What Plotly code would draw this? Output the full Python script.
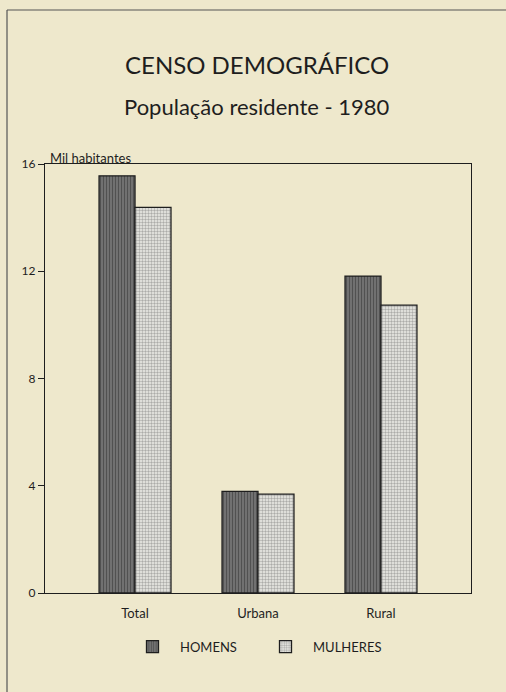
import plotly.graph_objects as go

categories = ["Total", "Urbana", "Rural"]
homens = [15.56, 3.79, 11.82]
mulheres = [14.38, 3.69, 10.74]
y_ticks = [0, 4, 8, 12, 16]

BG = "#eee8cc"
FONT = "Lato"
INK = "#1e1e1e"

fig = go.Figure()
fig.add_trace(go.Bar(
    x=categories, y=homens, name="HOMENS",
    marker=dict(color="#6e6e6e", line=dict(color=INK, width=1.3),
                pattern=dict(shape="|", fgcolor="#262626", bgcolor="#7c7c7c", size=3, solidity=0.5)),
))
fig.add_trace(go.Bar(
    x=categories, y=mulheres, name="MULHERES",
    marker=dict(color="#e6e6e0", line=dict(color=INK, width=1.3),
                pattern=dict(shape=".", fgcolor="#6a6a6a", bgcolor="#eeeee8", size=3, solidity=0.5)),
))

fig.update_layout(
    width=506, height=692,
    margin=dict(l=45, r=35, t=164, b=99),
    paper_bgcolor=BG, plot_bgcolor=BG,
    barmode="group", bargap=0.415, bargroupgap=0,
    font=dict(family=FONT, color=INK, size=12),
    showlegend=True,
    legend=dict(orientation="h", x=(125 - 45) / 426, xanchor="left", y=-0.125, yanchor="middle",
                font=dict(size=13, family=FONT), bgcolor="rgba(0,0,0,0)", itemwidth=45,
                traceorder="normal", entrywidth=73),
    xaxis=dict(range=[-0.732, 2.732], showline=True, linecolor=INK, linewidth=1.3, mirror=True,
               ticks="", showgrid=False, tickfont=dict(size=13, family=FONT), ticklabelstandoff=8),
    yaxis=dict(range=[0, 16], tickvals=y_ticks, showline=True, linecolor=INK, linewidth=1.3, mirror=True,
               ticks="outside", ticklen=6, tickcolor=INK, showgrid=False, zeroline=False,
               tickfont=dict(size=12, family=FONT)),
    annotations=[
        dict(text="CENSO DEMOGRÁFICO", xref="paper", yref="paper", x=0.497, y=(593 - 65) / 429,
             xanchor="center", yanchor="middle", showarrow=False, font=dict(size=24, family=FONT, color=INK)),
        dict(text="População residente - 1980", xref="paper", yref="paper", x=0.497, y=(593 - 107) / 429,
             xanchor="center", yanchor="middle", showarrow=False, font=dict(size=22, family=FONT, color=INK)),
        dict(text="Mil habitantes", xref="paper", yref="paper", x=(48 - 45) / 426, y=(593 - 158) / 429,
             xanchor="left", yanchor="middle", showarrow=False, font=dict(size=13, family=FONT, color=INK)),
    ],
    shapes=[
        dict(type="line", xref="paper", yref="paper", x0=(7 - 45) / 426, x1=(7 - 45) / 426,
             y0=(593 - 10) / 429, y1=(593 - 692) / 429, line=dict(color="#555", width=1.2)),
        dict(type="line", xref="paper", yref="paper", x0=(7 - 45) / 426, x1=(506 - 45) / 426,
             y0=(593 - 10) / 429, y1=(593 - 10) / 429, line=dict(color="#555", width=1.2)),
    ],
)

fig.write_html("out.html", config={"displayModeBar": False},
               post_script="document.body.style.margin='0';document.body.style.overflow='hidden';")
